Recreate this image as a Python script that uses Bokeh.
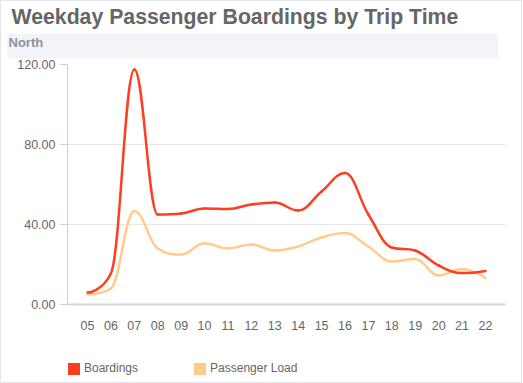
from bokeh.plotting import figure
from bokeh.models import (Range1d, FixedTicker, NumeralTickFormatter, Legend, LegendItem,
                          Title, ColumnDataSource, Span)
from bokeh.embed import file_html
from bokeh.resources import INLINE
from bokeh.core.properties import value

# ---- data ----
hours = ["05", "06", "07", "08", "09", "10", "11", "12", "13", "14",
         "15", "16", "17", "18", "19", "20", "21", "22"]
boardings = [6, 15.5, 117.5, 45, 45.5, 48, 47.7, 50, 51, 47, 56.5, 65.7, 45, 28.5, 27, 19.5, 15.7, 16.8]
passenger_load = [5, 8, 46.8, 28, 25, 30.6, 28, 30, 27, 29, 33.5, 35.7, 29, 21.5, 22.7, 14.5, 17.8, 13.2]
y_ticks = [0, 40, 80, 120]
title_text = "Weekday Passenger Boardings by Trip Time"
subtitle_text = "North"
series_names = ["Boardings", "Passenger Load"]
colors = ["#ff3d1f", "#ffcc8d"]

FONT = "Liberation Sans"
LABEL_COLOR = "#666666"
NAN = float("nan")


def spline_source(xs, ys, smoothing=1.5):
    """Highcharts-style spline: bezier control points from neighbouring data points."""
    n = len(xs)
    denom = smoothing + 1
    lc = [None] * n
    rc = [None] * n
    for i in range(n):
        x, y = xs[i], ys[i]
        if 0 < i < n - 1:
            lx, ly = xs[i - 1], ys[i - 1]
            nx, ny = xs[i + 1], ys[i + 1]
            lcx = (smoothing * x + lx) / denom
            lcy = (smoothing * y + ly) / denom
            rcx = (smoothing * x + nx) / denom
            rcy = (smoothing * y + ny) / denom
            corr = ((rcy - lcy) * (rcx - x)) / (rcx - lcx) + y - rcy
            lcy += corr
            rcy += corr
            if lcy > ly and lcy > y:
                lcy = max(ly, y)
                rcy = 2 * y - lcy
            elif lcy < ly and lcy < y:
                lcy = min(ly, y)
                rcy = 2 * y - lcy
            if rcy > ny and rcy > y:
                rcy = max(ny, y)
                lcy = 2 * y - rcy
            elif rcy < ny and rcy < y:
                rcy = min(ny, y)
                lcy = 2 * y - rcy
            lc[i] = (lcx, lcy)
            rc[i] = (rcx, rcy)
        else:
            lc[i] = (x, y)
            rc[i] = (x, y)
    d = dict(x0=[], y0=[], x1=[], y1=[], cx0=[], cy0=[], cx1=[], cy1=[])
    for i in range(1, n):
        d["x0"].append(xs[i - 1]); d["y0"].append(ys[i - 1])
        d["x1"].append(xs[i]); d["y1"].append(ys[i])
        d["cx0"].append(rc[i - 1][0]); d["cy0"].append(rc[i - 1][1])
        d["cx1"].append(lc[i][0]); d["cy1"].append(lc[i][1])
    return ColumnDataSource(d)


xs = [int(h) for h in hours]

# frame: 438 x 312 px; area below 0 holds tick labels + legend
p = figure(frame_width=438, frame_height=312,
           x_range=Range1d(4.1457, 22.856), y_range=Range1d(-36, 120),
           toolbar_location=None, output_backend="svg", title=None,
           min_border_left=66, min_border_right=16, min_border_top=62, min_border_bottom=6)
p.outline_line_color = None
p.background_fill_color = "white"
p.border_fill_color = "white"
p.styles = {"border": "1px solid #e3e7ec"}

# subtitle band (closest to frame) and title
sub = Title(text=subtitle_text, align="left", vertical_align="top", offset=-60, standoff=8,
            padding=(1, 455, 1, 9), background_fill_color="#f2f4f7",
            text_font=FONT, text_font_style="bold", text_font_size="13px",
            text_color="#8a939e")
p.add_layout(sub, "above")
ttl = Title(text=title_text, align="left", vertical_align="bottom", offset=-56, standoff=2,
            text_font=FONT, text_font_style="bold", text_font_size="21.25px",
            text_color="#666666")
p.add_layout(ttl, "above")

# grid + axes
p.xgrid.visible = False
p.ygrid.grid_line_color = "#e6e6e6"
p.ygrid.grid_line_width = 1
p.ygrid.ticker = FixedTicker(ticks=y_ticks)

p.xaxis.visible = False

p.yaxis.ticker = FixedTicker(ticks=y_ticks)
p.yaxis.bounds = (min(y_ticks), max(y_ticks))
p.yaxis.formatter = NumeralTickFormatter(format="0.00")
p.yaxis.axis_line_color = "#cccccc"
p.yaxis.major_tick_line_color = "#cccccc"
p.yaxis.major_tick_out = 7
p.yaxis.major_tick_in = 0
p.yaxis.minor_tick_line_color = None
p.yaxis.major_label_standoff = 5
p.yaxis.major_label_text_font = FONT
p.yaxis.major_label_text_font_size = "12.5px"
p.yaxis.major_label_text_color = LABEL_COLOR

# x axis line at 0 and category labels under it
p.add_layout(Span(location=0, dimension="width", line_color="#d6d6d6", line_width=2))
p.text(x=xs, y=[0] * len(xs), text=hours, y_offset=20.5,
       text_align="center", text_baseline="middle",
       text_font=value(FONT), text_font_size="12.5px", text_color=LABEL_COLOR)

# series
for ys, c in zip([passenger_load, boardings], [colors[1], colors[0]]):
    src = spline_source(xs, ys)
    p.bezier(x0="x0", y0="y0", x1="x1", y1="y1", cx0="cx0", cy0="cy0", cx1="cx1", cy1="cy1",
             source=src, line_color=c, line_width=2.5, line_cap="round")

# legend swatches (proxy renderers with no visible geometry)
items = []
for name, c in zip(series_names, colors):
    r = p.quad(left=[NAN], right=[NAN], top=[NAN], bottom=[NAN], fill_color=c, line_color=None)
    items.append(LegendItem(label=name, renderers=[r]))

legend = Legend(items=items, orientation="horizontal", location=(-1, 0.5),
                padding=0, margin=0, spacing=54, glyph_width=15, glyph_height=15,
                label_standoff=3, label_height=15, label_text_font=FONT,
                label_text_font_size="12px", label_text_color=LABEL_COLOR,
                background_fill_alpha=0, border_line_alpha=0)
p.add_layout(legend, "center")

open("out.html", "w").write(file_html(p, INLINE))
